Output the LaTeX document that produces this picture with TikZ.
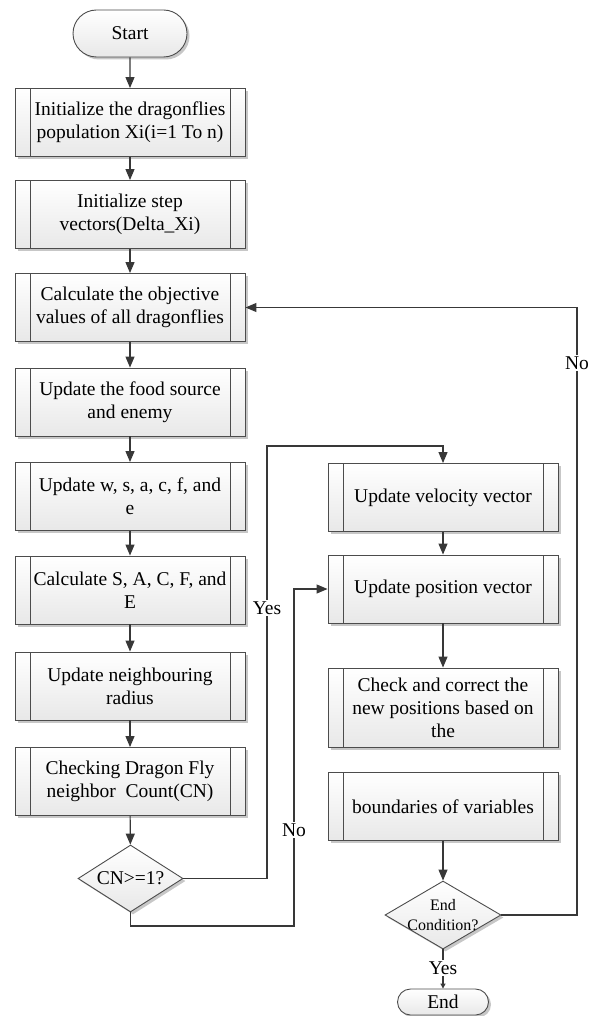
\documentclass[tikz,border=0pt]{standalone}
\usepackage{fontspec}
\setmainfont{Liberation Serif}
\usetikzlibrary{arrows.meta,shapes.geometric,shapes.misc,shadows}

\tikzset{
  base/.style={draw=black!70, line width=0.9pt, top color=white, bottom color=black!9,
    drop shadow={shadow xshift=2.5pt, shadow yshift=-2.5pt, fill=black!22, opacity=1},
    font=\fontsize{19.5}{23}\selectfont, align=center, inner sep=0pt},
  proc/.style={base, rectangle, minimum width=230pt, minimum height=68pt,
    path picture={\draw[black!70, line width=0.9pt]
      ([xshift=15pt]path picture bounding box.north west) -- ([xshift=15pt]path picture bounding box.south west)
      ([xshift=-15pt]path picture bounding box.north east) -- ([xshift=-15pt]path picture bounding box.south east);}},
  term/.style={base, rounded rectangle},
  decision/.style={base, diamond},
  flow/.style={draw=black!78, line width=1.1pt, -{Triangle[length=11pt,width=9pt]}},
  tag/.style={fill=white, inner sep=1.5pt, font=\fontsize{19.5}{23}\selectfont},
  dtext/.style={font=\fontsize{19.5}{23}\selectfont, align=center, inner sep=0pt}
}

\begin{document}
\begin{tikzpicture}[x=1pt, y=-1pt]
\useasboundingbox (0,0) rectangle (594,1016);

% main column
\node[term, minimum width=114pt, minimum height=47pt] (start) at (130,33.5) {Start};
\node[proc] (b1) at (130,122.5) {Initialize the dragonflies\\population Xi(i=1 To n)};
\node[proc] (b2) at (130,214.5) {Initialize step\\vectors(Delta\_Xi)};
\node[proc] (b3) at (130,307.5) {Calculate the objective\\values of all dragonflies};
\node[proc] (b4) at (130,402) {Update the food source\\and enemy};
\node[proc] (b5) at (130,496.5) {Update w, s, a, c, f, and\\e};
\node[proc] (b6) at (130,590) {Calculate S, A, C, F, and\\E};
\node[proc] (b7) at (130,686) {Update neighbouring\\radius};
\node[proc] (b8) at (130,781.5) {Checking Dragon Fly\\neighbor\ \ Count(CN)};
\node[decision, minimum width=105pt, minimum height=67pt] (cn) at (130.5,878.5) {};
\node[dtext] (cntext) at (cn) {CN>=1?};

% update column
\node[proc] (vel) at (443,497.5) {Update velocity vector};
\node[proc] (pos) at (443,589) {Update position vector};
\node[proc, minimum height=79pt] (chk) at (443,707.5) {Check and correct the\\new positions based on\\the};
\node[proc] (bnd) at (443,806.5) {boundaries of variables};
\node[decision, minimum width=116pt, minimum height=68pt] (endc) at (443,915) {};
\node[dtext, font=\fontsize{16}{20}\selectfont] (endctext) at (endc) {End\\Condition?};
\node[term, minimum width=91pt, minimum height=26pt] (end) at (443,1002) {End};

% turning points of the routed connectors
\coordinate (yA) at (267,878.5);
\coordinate (yB) at (267,446);
\coordinate (yC) at (443,446);
\coordinate (nA) at (130.5,926);
\coordinate (nB) at (294,926);
\coordinate (nC) at (294,589);
\coordinate (rA) at (577,915);
\coordinate (rB) at (577,307.5);

% straight flow
\draw[flow] (start) -- (b1);
\draw[flow] (b1) -- (b2);
\draw[flow] (b2) -- (b3);
\draw[flow] (b3) -- (b4);
\draw[flow] (b4) -- (b5);
\draw[flow] (b5) -- (b6);
\draw[flow] (b6) -- (b7);
\draw[flow] (b7) -- (b8);
\draw[flow] (b8) -- (cn);
\draw[flow] (vel) -- (pos);
\draw[flow] (pos) -- (chk);
\draw[flow] (bnd) -- (endc);

% branches
\draw[flow] (cn.east) -- (yA) -- (yB) -- (yC) -- (vel.north);
\node[tag] (yes1) at (267,608) {Yes};
\draw[flow] (cn.south) -- (nA) -- (nB) -- (nC) -- (pos.west);
\node[tag] (no1) at (294,830) {No};
\draw[flow] (endc.east) -- (rA) -- (rB) -- (b3.east);
\node[tag] (no2) at (577,363) {No};
\draw[draw=black!78, line width=1.1pt, -{Triangle[length=5pt,width=5pt]}] (endc.south) -- (end.north);
\node[tag] (yes2) at (443,968) {Yes};
\end{tikzpicture}
\end{document}
